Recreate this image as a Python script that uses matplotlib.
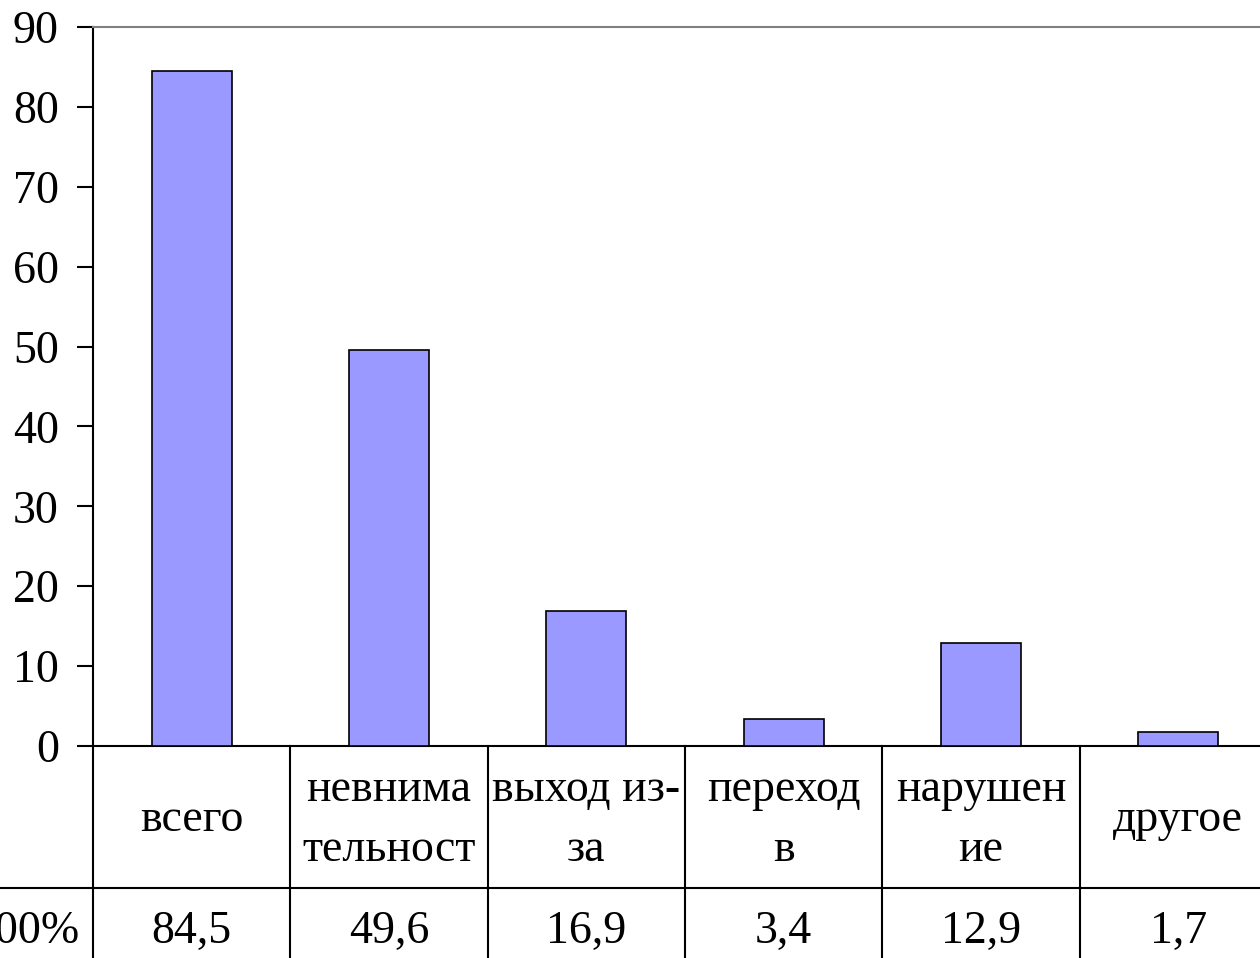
import matplotlib.pyplot as plt
import matplotlib.transforms as mtransforms

# chart data
categories = ["всего", "невнима\nтельност", "выход из-\nза", "переход\nв", "нарушен\nие", "другое"]
values = [84.5, 49.6, 16.9, 3.4, 12.9, 1.7]
value_labels = ["84,5", "49,6", "16,9", "3,4", "12,9", "1,7"]
row_label = "100%"

plt.rcParams['font.family'] = ['Liberation Serif', 'DejaVu Serif']

W, H = 1260, 958
fig = plt.figure(figsize=(W / 100, H / 100), dpi=100)

# plot area in pixels: left 93, right 1277 (runs past the edge), top 27, bottom 746
ax = fig.add_axes([93 / W, (H - 746) / H, (1277 - 93) / W, (746 - 27) / H])

x = list(range(len(values)))
ax.bar(x, values, width=0.405, color='#9999FF', edgecolor='black', linewidth=1.2, zorder=3)

ax.set_xlim(-0.5, len(values) - 0.5)
ax.set_ylim(0, 90)
ax.set_yticks(range(0, 91, 10))
ax.set_xticks([])
ax.tick_params(axis='y', direction='out', length=11.5, width=1.5, labelsize=33, pad=13, colors='black')

ax.spines['left'].set_linewidth(1.5)
ax.spines['bottom'].set_linewidth(1.5)
ax.spines['top'].set_color('#808080')
ax.spines['top'].set_linewidth(1.5)
ax.spines['right'].set_color('#808080')

# data table under the chart
axh = 746 - 27
row1_bottom = -(888 - 746) / axh
fig_bottom = -(H - 746) / axh - 0.01
trans = mtransforms.blended_transform_factory(ax.transData, ax.transAxes)

for i in range(len(values) + 1):
    ax.plot([i - 0.5, i - 0.5], [0, fig_bottom], transform=trans, color='black',
            linewidth=1.5, clip_on=False)
ax.plot([-0.5, len(values) - 0.5], [row1_bottom, row1_bottom], transform=trans,
        color='black', linewidth=1.5, clip_on=False)
fig.add_artist(plt.Line2D([0, 93 / W], [(H - 888) / H, (H - 888) / H],
                          color='black', linewidth=1.5))

for i, (cat, lab) in enumerate(zip(categories, value_labels)):
    ax.text(i, -(820 - 746) / axh, cat, transform=trans, ha='center', va='center',
            fontsize=33, linespacing=1.55)
    ax.text(i, -(932 - 746) / axh, lab, transform=trans, ha='center', va='center',
            fontsize=33)

fig.text(79 / W, (H - 932) / H, row_label, ha='right', va='center', fontsize=33)

fig.savefig('out.png', dpi=100)
